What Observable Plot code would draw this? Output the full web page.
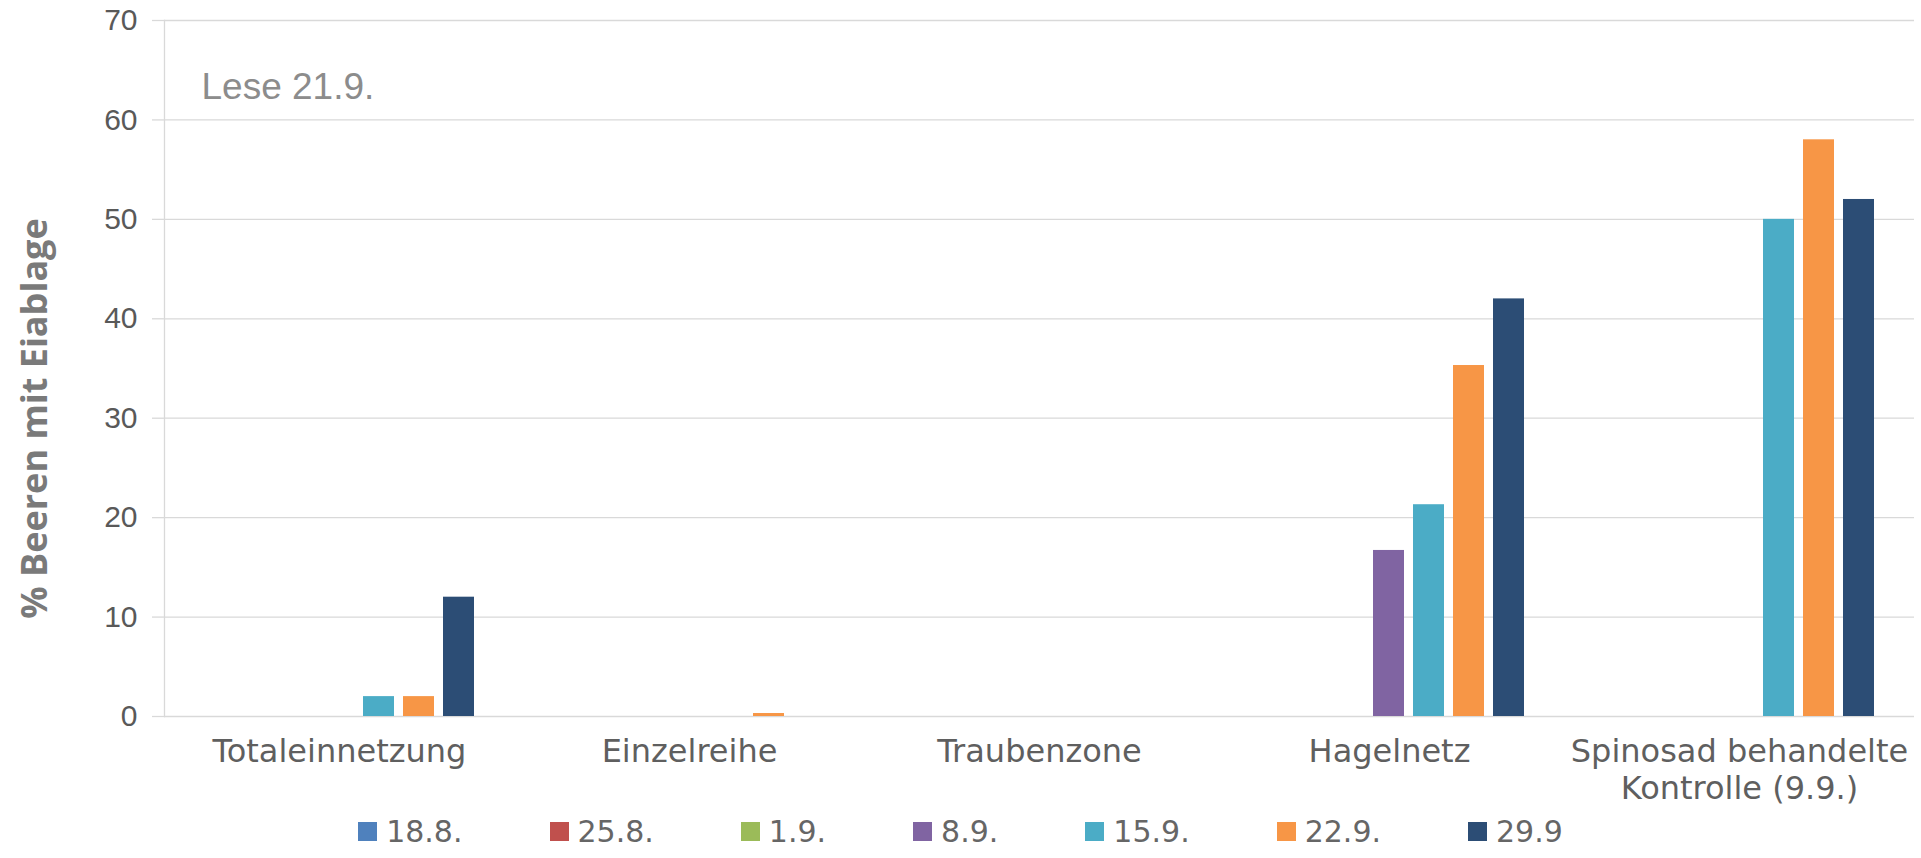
<!DOCTYPE html>
<html>
<head>
<meta charset="utf-8">
<script src="https://cdn.jsdelivr.net/npm/d3@7"></script>
<script src="https://cdn.jsdelivr.net/npm/@observablehq/plot@0.6"></script>
<style>
  html, body { margin: 0; background: #ffffff; overflow: hidden; }
  #chart svg { display: block; }
  #legend {
    display: flex; justify-content: center; align-items: center;
    gap: 87px; height: 46px; padding-top: 6px;
    font-family: "DejaVu Sans", sans-serif; font-size: 30px; color: #666666;
  }
  #legend .item { display: flex; align-items: center; gap: 9px; }
  #legend .sw { width: 19px; height: 19px; display: inline-block; }
</style>
</head>
<body>
<div id="chart"></div>
<div id="legend"></div>
<script>
// ---- data ----
const categories = ["Totaleinnetzung", "Einzelreihe", "Traubenzone", "Hagelnetz", "Spinosad"];
const categoryLabels = ["Totaleinnetzung", "Einzelreihe", "Traubenzone", "Hagelnetz", "Spinosad behandelte\nKontrolle (9.9.)"];
const series = ["18.8.", "25.8.", "1.9.", "8.9.", "15.9.", "22.9.", "29.9"];
const colors = ["#4f81bd", "#c0504d", "#9bbb59", "#8064a2", "#4bacc6", "#f79646", "#2c4d75"];

// values per series, in category order
const v18_8 = [0, 0, 0, 0, 0];
const v25_8 = [0, 0, 0, 0, 0];
const v1_9  = [0, 0, 0, 0, 0];
const v8_9  = [0, 0, 0, 16.7, 0];
const v15_9 = [2, 0, 0, 21.3, 50];
const v22_9 = [2, 0.3, 0, 35.3, 58];
const v29_9 = [12, 0, 0, 42, 52];

const yTicks = [0, 10, 20, 30, 40, 50, 60, 70];
const annotation = "Lese 21.9.";
const yTitle = "% Beeren mit Eiablage";

// ---- build table ----
const seriesValues = [v18_8, v25_8, v1_9, v8_9, v15_9, v22_9, v29_9];
const data = [];
series.forEach((s, j) => {
  categories.forEach((c, i) => data.push({cat: c, series: s, value: seriesValues[j][i]}));
});
const labelMap = new Map(categories.map((c, i) => [c, categoryLabels[i]]));

const chart = Plot.plot({
  width: 1921,
  height: 802,
  marginTop: 20,
  marginBottom: 86,
  marginLeft: 162,
  marginRight: 6,
  style: {fontFamily: "DejaVu Sans, sans-serif", background: "#ffffff", overflow: "visible"},
  fx: {domain: categories, padding: 0, axis: null, label: null},
  x: {domain: series, paddingInner: 0.222, paddingOuter: 0.94, axis: null, label: null},
  y: {domain: [0, 70], axis: null, label: null},
  color: {domain: series, range: colors},
  marks: [
    Plot.gridY(yTicks, {stroke: "#d9d9d9", strokeOpacity: 1, strokeWidth: 1.3}),
    Plot.frame({anchor: "left", stroke: "#d9d9d9", strokeWidth: 1.3, facetAnchor: "left"}),
    Plot.axisY(yTicks, {
      anchor: "left", tickSize: 12, tickPadding: 15, label: null,
      stroke: "#d9d9d9", strokeWidth: 1.3, fill: "#595959",
      fontFamily: "Liberation Sans, Arial, sans-serif", fontSize: 30
    }),
    Plot.barY(data, {fx: "cat", x: "series", y: "value", fill: "series", filter: d => d.value > 0}),
    Plot.axisFx({
      anchor: "bottom", tickSize: 0, tickPadding: 20, label: null,
      tickFormat: d => labelMap.get(d), fill: "#5f5f5f",
      fontFamily: "DejaVu Sans, sans-serif", fontSize: 32, lineHeight: 1.14
    }),
    Plot.text([{cat: categories[0], t: annotation}], {
      fx: "cat", text: "t", frameAnchor: "top-left", textAnchor: "start", lineAnchor: "middle",
      dx: 37, dy: 67, fill: "#8c8c8c", fontSize: 37, fontFamily: "Liberation Sans, Arial, sans-serif"
    }),
    Plot.text([{cat: categories[0], t: yTitle}], {
      fx: "cat", text: "t", frameAnchor: "left", rotate: -90, textAnchor: "middle", lineAnchor: "middle",
      dx: -129, dy: 50, fill: "#7a7a7a", fontSize: 36, fontWeight: "bold",
      fontFamily: "Open Sans, sans-serif"
    })
  ]
});
document.getElementById("chart").appendChild(chart);

// ---- legend built from the plot's color scale ----
const colorScale = chart.scale("color");
const legend = d3.select("#legend");
colorScale.domain.forEach((s, i) => {
  const item = legend.append("div").attr("class", "item");
  item.append("span").attr("class", "sw").style("background", colorScale.range[i]);
  item.append("span").text(s);
});
</script>
</body>
</html>
